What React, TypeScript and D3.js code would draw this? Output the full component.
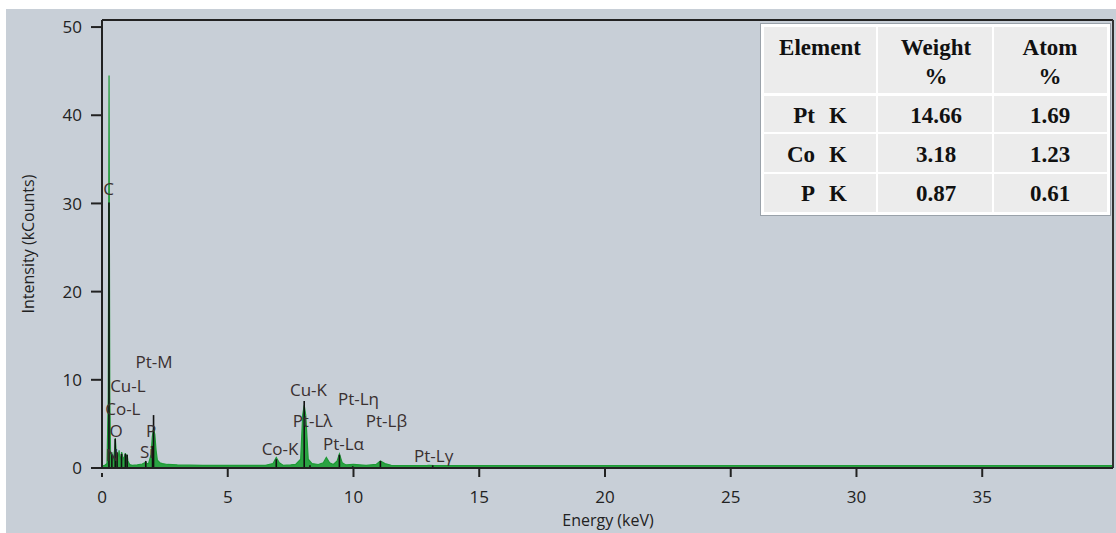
import React from "react";
import * as d3 from "d3";

// ---------- DATA ----------
const energies = [
  0.0, 0.1, 0.2, 0.25, 0.27, 0.28, 0.29, 0.31, 0.34, 0.37, 0.39, 0.41, 0.45, 0.5, 0.53, 0.56, 0.6,
  0.66, 0.68, 0.7, 0.74, 0.78, 0.8, 0.84, 0.9, 0.93, 0.96, 1.0, 1.03, 1.1, 1.2, 1.4, 1.6, 1.7, 1.74,
  1.78, 1.85, 1.95, 2.0, 2.05, 2.1, 2.15, 2.2, 2.3, 2.4, 2.6, 3.0, 4.0, 5.0, 6.0, 6.5, 6.8, 6.93,
  7.05, 7.2, 7.5, 7.7, 7.9, 7.98, 8.04, 8.1, 8.2, 8.35, 8.6, 8.8, 8.92, 9.05, 9.2, 9.35, 9.44, 9.55,
  9.7, 10.0, 10.5, 10.9, 11.07, 11.25, 11.5, 12.0, 12.9, 13.0, 13.2, 14.0, 15.0, 20.0, 30.0, 40.2,
];
const counts = [
  0.0, 0.05, 0.5, 8, 30, 44.5, 30, 8, 1.5, 1.0, 1.8, 1.0, 0.9, 2.0, 3.4, 2.0, 1.2,
  1.5, 2.0, 1.3, 1.0, 1.8, 1.6, 1.0, 1.3, 1.7, 1.2, 1.5, 0.8, 0.4, 0.3, 0.35, 0.45, 0.6, 0.7,
  0.5, 0.5, 1.5, 3.5, 4.5, 3.8, 2.0, 0.9, 0.6, 0.5, 0.4, 0.35, 0.3, 0.3, 0.3, 0.3, 0.5, 1.2,
  0.6, 0.3, 0.35, 0.4, 1.0, 6.0, 7.1, 6.0, 1.0, 0.5, 0.4, 0.6, 1.2, 0.6, 0.4, 0.8, 1.6, 0.6,
  0.35, 0.4, 0.3, 0.4, 0.8, 0.5, 0.3, 0.25, 0.25, 0.3, 0.2, 0.15, 0.15, 0.12, 0.1, 0.1,
];

// KLM marker lines (energy keV, height kCounts)
const markerEnergies = [0.277, 0.392, 0.525, 0.6, 0.776, 0.93, 1.0, 1.74, 2.01, 2.05, 6.93, 8.04, 8.27, 9.44, 9.97, 11.07, 13.15];
const markerHeights = [30.1, 1.5, 3.3, 1.8, 1.6, 1.6, 1.5, 0.8, 2.5, 6.0, 1.0, 7.6, 0.3, 1.5, 0.2, 0.8, 0.3];

// Peak labels (centre energy keV, baseline kCounts)
const peakLabels = ["C", "Pt-M", "Cu-L", "Co-L", "O", "P", "N", "Si", "Co-K", "Cu-K", "Pt-Lλ", "Pt-Lη", "Pt-Lα", "Pt-Lβ", "Pt-Lγ"];
const peakLabelX = [0.26, 2.07, 1.03, 0.83, 0.56, 1.95, 0.4, 1.78, 7.08, 8.21, 8.37, 10.2, 9.6, 11.31, 13.19];
const peakLabelY = [31.0, 11.3, 8.65, 6.0, 3.5, 3.5, 0.8, 1.1, 1.5, 8.15, 4.64, 7.1, 2.0, 4.64, 0.68];

const xTicks = [0, 5, 10, 15, 20, 25, 30, 35];
const yTicks = [0, 10, 20, 30, 40, 50];

// Table
const tableHeader1 = ["Element", "Weight", "Atom"];
const tableHeader2 = ["", "%", "%"];
const tableElements = ["Pt", "Co", "P"];
const tableLines = ["K", "K", "K"];
const tableWeight = ["14.66", "3.18", "0.87"];
const tableAtom = ["1.69", "1.23", "0.61"];

// ---------- LAYOUT ----------
const W = 1116;
const H = 533;
const left = 102;
const right = 1113;
const top = 20;
const bottom = 468;

export default function App() {
  const x = d3.scaleLinear().domain([0, 40.2]).range([left, right]);
  const y = d3.scaleLinear().domain([0, 50.8]).range([bottom, top]);

  const pts = energies.map((e, i) => [e, counts[i]] as [number, number]);
  const area = d3
    .area<[number, number]>()
    .x((d) => x(d[0]))
    .y0(y(0) - 1)
    .y1((d) => Math.min(y(d[1]), y(0) - 2.5));
  const line = d3
    .line<[number, number]>()
    .x((d) => x(d[0]))
    .y((d) => Math.min(y(d[1]), y(0) - 2.5));

  const font = "'Open Sans', 'DejaVu Sans', sans-serif";
  const serif = "'Liberation Serif', 'Times New Roman', serif";
  const txt = "#222";

  // table geometry
  const tx = [763, 877, 993, 1108];
  const ty = [26, 94, 133, 173, 213];
  const colC = [820, 936, 1050];
  const tf = 23;

  return (
    <svg width={W} height={H} style={{ position: "absolute", left: 0, top: 0 }}>
      <rect x={0} y={0} width={W} height={H} fill="#ffffff" />
      <rect x={6} y={9} width={W - 6} height={H - 9} fill="#c8cfd7" />

      {/* spectrum */}
      <path d={area(pts) || ""} fill="#22a03a" fillOpacity={0.95} />
      <path d={line(pts) || ""} fill="none" stroke="#1e9a36" strokeWidth={1.2} />

      {/* markers */}
      {markerEnergies.map((e, i) => (
        <line key={"m" + i} x1={x(e)} x2={x(e)} y1={y(0)} y2={y(markerHeights[i])} stroke="#111" strokeWidth={1.6} />
      ))}

      {/* frame */}
      <line x1={left} x2={right} y1={top} y2={top} stroke="#222" strokeWidth={2} />
      <line x1={right} x2={right} y1={top} y2={bottom} stroke="#333" strokeWidth={2} />
      <line x1={left} x2={left} y1={top} y2={bottom} stroke="#222" strokeWidth={2} />
      <line x1={left} x2={right} y1={bottom} y2={bottom} stroke="#222" strokeWidth={2} />

      {/* y ticks */}
      {yTicks.map((t) => (
        <g key={"y" + t}>
          <line x1={left - 11} x2={left} y1={y(t)} y2={y(t)} stroke="#222" strokeWidth={2} />
          <text x={82} y={y(t)} dy="0.36em" textAnchor="end" fontFamily={font} fontSize={17} fill={txt}>
            {t}
          </text>
        </g>
      ))}
      {/* x ticks */}
      {xTicks.map((t) => (
        <g key={"x" + t}>
          <line x1={x(t)} x2={x(t)} y1={t === 0 ? bottom + 5 : bottom} y2={bottom + 9} stroke="#222" strokeWidth={2} />
          <text x={x(t)} y={503} textAnchor="middle" fontFamily={font} fontSize={17} fill={txt}>
            {t}
          </text>
        </g>
      ))}

      <text x={608} y={526} textAnchor="middle" fontFamily={font} fontSize={16} fill={txt}>
        Energy (keV)
      </text>
      <text
        transform={`translate(34,${(top + bottom) / 2}) rotate(-90)`}
        textAnchor="middle"
        fontFamily={font}
        fontSize={16}
        fill={txt}
      >
        Intensity (kCounts)
      </text>

      {/* peak labels */}
      {peakLabels.map((l, i) => (
        <text key={"p" + i} x={x(peakLabelX[i])} y={y(peakLabelY[i])} textAnchor="middle" fontFamily={font} fontSize={17} fill="#3a3030">
          {l}
        </text>
      ))}

      {/* table */}
      <rect x={tx[0] - 3} y={ty[0] - 3} width={tx[3] - tx[0] + 6} height={ty[4] - ty[0] + 6} fill="#9aa2aa" />
      <rect x={tx[0] - 2} y={ty[0] - 2} width={tx[3] - tx[0] + 4} height={ty[4] - ty[0] + 4} fill="#ffffff" />
      {[0, 1, 2, 3].map((r) =>
        [0, 1, 2].map((c) => (
          <rect
            key={`c${r}${c}`}
            x={tx[c] + 1}
            y={ty[r] + (r === 1 ? 2 : 1)}
            width={tx[c + 1] - tx[c] - 2}
            height={ty[r + 1] - ty[r] - (r === 1 ? 3 : 2)}
            fill="#ececec"
          />
        ))
      )}
      {tableHeader1.map((h, i) => (
        <text key={"h1" + i} x={colC[i]} y={55} textAnchor="middle" fontFamily={serif} fontWeight="bold" fontSize={tf} fill="#111">
          {h}
        </text>
      ))}
      {tableHeader2.map((h, i) => (
        <text key={"h2" + i} x={colC[i]} y={84} textAnchor="middle" fontFamily={serif} fontWeight="bold" fontSize={tf} fill="#111">
          {h}
        </text>
      ))}
      {tableElements.map((el, r) => {
        const by = [123, 162, 201][r];
        return (
          <g key={"r" + r}>
            <text x={815} y={by} textAnchor="end" fontFamily={serif} fontWeight="bold" fontSize={tf} fill="#111">
              {el}
            </text>
            <text x={829} y={by} textAnchor="start" fontFamily={serif} fontWeight="bold" fontSize={tf} fill="#111">
              {tableLines[r]}
            </text>
            <text x={colC[1]} y={by} textAnchor="middle" fontFamily={serif} fontWeight="bold" fontSize={tf} fill="#111">
              {tableWeight[r]}
            </text>
            <text x={colC[2]} y={by} textAnchor="middle" fontFamily={serif} fontWeight="bold" fontSize={tf} fill="#111">
              {tableAtom[r]}
            </text>
          </g>
        );
      })}
    </svg>
  );
}
